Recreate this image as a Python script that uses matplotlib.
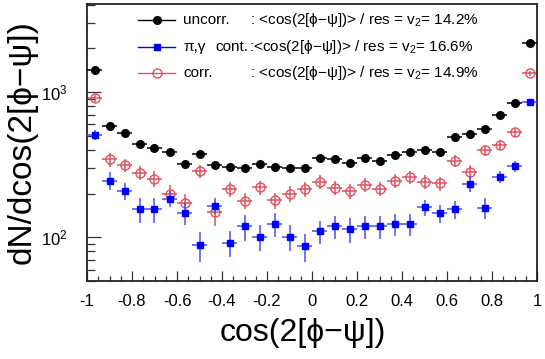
import numpy as np
import matplotlib
matplotlib.use("Agg")
import matplotlib.pyplot as plt
from matplotlib.ticker import MultipleLocator, LogLocator, NullFormatter, FixedLocator

plt.rcParams['font.family'] = ['Liberation Sans', 'DejaVu Sans']
plt.rcParams['mathtext.fontset'] = 'custom'
plt.rcParams['mathtext.rm'] = 'Liberation Sans'
plt.rcParams['mathtext.it'] = 'Liberation Sans:italic'

# 30 bins in cos(2[phi-psi]) from -1 to 1
bin_edges = np.linspace(-1, 1, 31)
x_centers = 0.5 * (bin_edges[:-1] + bin_edges[1:])
half_width = 0.5 * (bin_edges[1] - bin_edges[0])

uncorr = [1418, 583, 521, 436, 410, 384, 320, 372, 316, 306,
          298, 322, 305, 299, 302, 353, 344, 325, 352, 335,
          369, 386, 401, 384, 492, 516, 556, 694, 836, 2188]
uncorr_err = [40, 20, 19, 17, 16, 16, 15, 16, 15, 15,
              15, 15, 15, 15, 15, 16, 16, 15, 16, 15,
              16, 17, 17, 17, 19, 19, 20, 23, 25, 45]

cont = [505, 246, 208, 156, 156, 185, 146, 88, 165, 92,
        119, 101, 124, 101, 87, 110, 119, 114, 119, 119,
        123, 123, 161, 147, 156, 234, 160, 262, 309, 857]
cont_err = [40, 34, 27, 31, 31, 24, 25, 20, 21, 19,
            24, 20, 23, 20, 19, 20, 21, 22, 21, 21,
            21, 21, 21, 21, 22, 30, 26, 26, 25, 40]

corr = [905, 344, 316, 278, 254, 200, 172, 287, 149, 215,
        179, 221, 180, 200, 215, 241, 220, 209, 231, 216,
        246, 260, 241, 236, 337, 283, 398, 434, 528, 1346]
corr_err = [55, 38, 32, 31, 33, 28, 27, 29, 30, 24,
            23, 25, 23, 24, 24, 26, 25, 24, 25, 24,
            26, 27, 26, 26, 32, 30, 34, 34, 36, 60]

legend_v2 = ["14.2%", "16.6%", "14.9%"]

xticks = [-1, -0.8, -0.6, -0.4, -0.2, 0, 0.2, 0.4, 0.6, 0.8, 1]
xticklabels = ["-1", "-0.8", "-0.6", "-0.4", "-0.2", "0", "0.2", "0.4", "0.6", "0.8", "1"]

red = '#e0505e'
blue = '#0000ff'
blue_bar = '#4a4aff'

W, H = 545, 359
AX_L, AX_R, AX_T, AX_B = 87, 537, 4, 281
AW, AH = AX_R - AX_L, AX_B - AX_T

fig = plt.figure(figsize=(W / 100, H / 100), dpi=100)
ax = fig.add_axes([AX_L / W, 1 - AX_B / H, AW / W, AH / H])

ax.errorbar(x_centers, uncorr, xerr=half_width, yerr=uncorr_err, fmt='o',
            color='black', ms=5.5, elinewidth=1.1, capsize=0, zorder=3)
ax.errorbar(x_centers, corr, xerr=half_width, yerr=corr_err, fmt='o',
            mfc='none', mec=red, ecolor=red, mew=1.0, ms=6.5,
            elinewidth=1.1, capsize=0, zorder=2)
ax.errorbar(x_centers, cont, xerr=half_width, yerr=cont_err, fmt='s',
            color=blue, ecolor=blue_bar, ms=5, elinewidth=1.1, capsize=0, zorder=4)

ax.set_yscale('log')
ax.set_xlim(-1, 1)
ax.set_ylim(50, 4050)

ax.xaxis.set_major_locator(FixedLocator(xticks))
ax.set_xticklabels(xticklabels)
ax.xaxis.set_minor_locator(MultipleLocator(0.05))
ax.yaxis.set_major_locator(LogLocator(base=10))
ax.yaxis.set_minor_locator(LogLocator(base=10, subs=np.arange(2, 10)))
ax.yaxis.set_minor_formatter(NullFormatter())

ax.tick_params(axis='both', which='both', direction='in', top=False, right=False,
               labelsize=12, width=0.9, color='#333333')
ax.tick_params(axis='x', which='major', length=7, pad=9)
ax.tick_params(axis='x', which='minor', length=3.5)
ax.tick_params(axis='y', which='major', length=10, pad=14)
ax.tick_params(axis='y', which='minor', length=5.5)
for sp in ax.spines.values():
    sp.set_linewidth(1.3)
    sp.set_color('#222222')

ax.set_xlabel("cos(2[\u03d5\u2212\u03c8])", fontsize=23)
ax.xaxis.set_label_coords((303 - AX_L) / AW, (AX_B - 318) / AH)
ax.set_ylabel("dN/dcos(2[\u03d5\u2212\u03c8])", fontsize=24)
ax.yaxis.set_label_coords((38 - AX_L) / AW, 0.5)

# legend drawn manually (axes coordinates)
def ax_x(px):
    return (px - AX_L) / AW

def ax_y(py):
    return (AX_B - py) / AH

rows_py = [20, 47, 73]
styles = [dict(color='black', marker='o', mfc='black', mec='black', ms=5.5),
          dict(color=blue, marker='s', mfc=blue, mec=blue, ms=5),
          dict(color=red, marker='o', mfc='none', mec=red, ms=6.5)]
fs_leg = 11
for i, v2 in enumerate(legend_v2):
    y = ax_y(rows_py[i])
    st = styles[i]
    ax.plot([ax_x(138), ax_x(175)], [y, y], transform=ax.transAxes, color=st['color'],
            lw=1.0, clip_on=False, zorder=5)
    ax.plot([ax_x(157)], [y], transform=ax.transAxes, linestyle='none', marker=st['marker'],
            mfc=st['mfc'], mec=st['mec'], ms=st['ms'], clip_on=False, zorder=6)
    rest = "<cos(2[\u03d5\u2212\u03c8])> / res = v$_{2}$= " + v2
    if i == 0:
        ax.text(ax_x(183), y, "uncorr.", transform=ax.transAxes, fontsize=fs_leg,
                va='center', ha='left')
        ax.text(ax_x(250), y, ": " + rest, transform=ax.transAxes, fontsize=fs_leg,
                va='center', ha='left')
    elif i == 1:
        ax.text(ax_x(183), y, "\u03c0,\u03b3", transform=ax.transAxes, fontsize=fs_leg,
                va='center', ha='left')
        ax.text(ax_x(248), y, "cont.", transform=ax.transAxes, fontsize=fs_leg,
                va='center', ha='right')
        ax.text(ax_x(249), y, ":" + rest, transform=ax.transAxes, fontsize=fs_leg,
                va='center', ha='left')
    else:
        ax.text(ax_x(183), y, "corr.", transform=ax.transAxes, fontsize=fs_leg,
                va='center', ha='left')
        ax.text(ax_x(250), y, ": " + rest, transform=ax.transAxes, fontsize=fs_leg,
                va='center', ha='left')

fig.savefig("out.png", dpi=100)
